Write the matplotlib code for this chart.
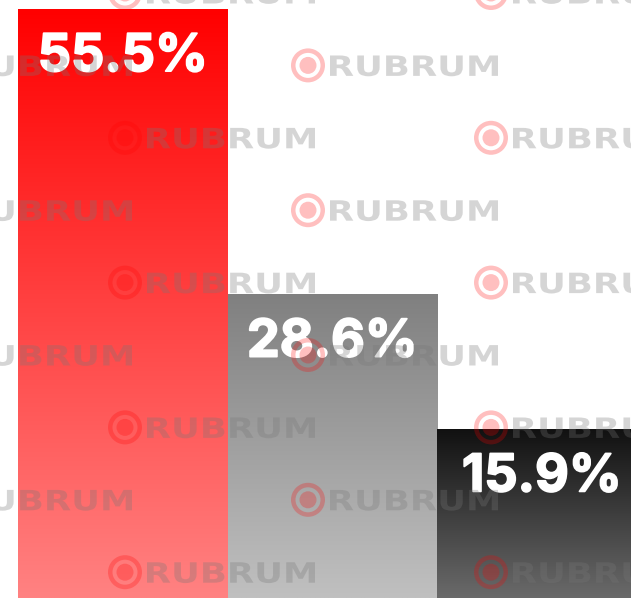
import numpy as np
import matplotlib.pyplot as plt
import matplotlib.patheffects as pe
from matplotlib.colors import to_rgb
from matplotlib.patches import Circle, Wedge, PathPatch
from matplotlib.textpath import TextPath
from matplotlib.font_manager import FontProperties
from matplotlib.transforms import Affine2D

# ── Data ───────────────────────────────────────────────────────────────────────
categories = ['A', 'B', 'C']
values     = [55.5, 28.6, 15.9]
labels     = ['55.5%', '28.6%', '15.9%']
top_colors = ['#ff0000', '#808080', '#111111']
bot_colors = ['#ff8282', '#c0c0c0', '#6a6a6a']

# ── Figure ─────────────────────────────────────────────────────────────────────
W, H = 631, 598
fig = plt.figure(figsize=(W / 100, H / 100), dpi=100)
ax = fig.add_axes([0, 0, 1, 1])
ax.set_axis_off()

bar_px = 209.5
left_px = 18
xs = np.arange(len(values))

# gradient bars
for x, v, c0, c1 in zip(xs, values, top_colors, bot_colors):
    t = np.linspace(0, 1, 256)[:, None]
    grad = (1 - t) * np.array(to_rgb(c0)) + t * np.array(to_rgb(c1))
    ax.imshow(grad[:, None, :].repeat(2, axis=1), extent=[x - 0.5, x + 0.5, 0, v],
              aspect='auto', interpolation='bilinear', zorder=2)

ax.set_xlim(-0.5 - left_px / bar_px, -0.5 + (W - left_px) / bar_px)
ax.set_ylim(0, values[0] * H / (H - 9))

for x, v, lab in zip(xs, values, labels):
    ax.annotate(lab, (x, v), xytext=(0, -35), textcoords='offset points',
                ha='center', va='center', color='white', fontsize=37.5,
                fontweight='bold', family='Inter', zorder=5,
                path_effects=[pe.withStroke(linewidth=1.3, foreground='white')])

# ── Watermark overlay (pixel coords) ───────────────────────────────────────────
wm = fig.add_axes([0, 0, 1, 1])
wm.set_axis_off()
wm.patch.set_alpha(0)
wm.set_xlim(0, W)
wm.set_ylim(H, 0)

fp = FontProperties(family='DejaVu Sans', weight='bold')
base = TextPath((0, 0), 'RUBRUM', size=28, prop=fp)
ext = base.get_extents()
sx = 168 / ext.width

row_y = -7 + 72.4 * np.arange(9)
for i, cy in enumerate(row_y):
    off = 125 if i % 2 == 0 else 308
    for cx in [off - 366, off, off + 366]:
        wm.add_patch(Wedge((cx, cy), 17, 0, 360, width=4.5,
                           color='red', alpha=0.25, lw=0, zorder=3))
        wm.add_patch(Circle((cx, cy), 8.5, color='red', alpha=0.25, lw=0, zorder=3))
        tr = Affine2D().translate(-ext.x0, 0).scale(sx, -1).translate(cx + 22, cy + 10.5)
        wm.add_patch(PathPatch(tr.transform_path(base), color='#777777',
                               alpha=0.3, lw=0, zorder=3))

fig.savefig('out.png', dpi=100)
